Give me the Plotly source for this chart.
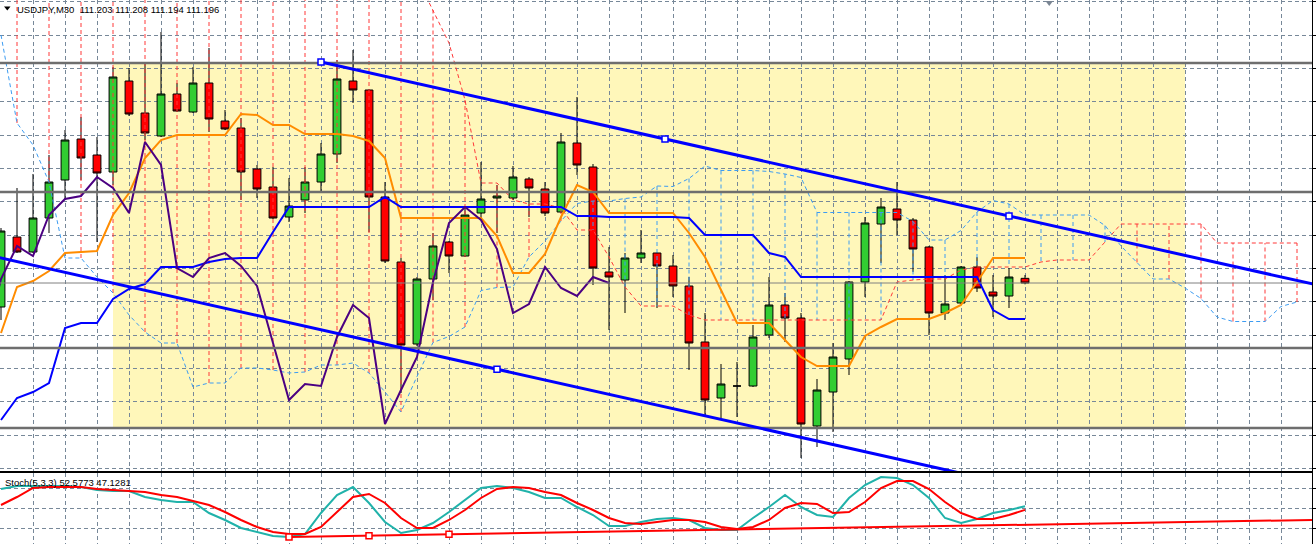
import plotly.graph_objects as go

# ---------------- data ----------------
bars = list(range(65))

open_ = [111.1600, 111.2650, 111.2425, 111.2935, 111.3505, 111.4120, 111.3880, 111.3625, 111.4990, 111.4510,
         111.4165, 111.4795, 111.4525, 111.4960, 111.4390, 111.4285, 111.3670, 111.3400, 111.2950, 111.3205,
         111.3475, 111.3895, 111.4990, 111.4855, 111.3250, 111.2275, 111.1045, 111.2020, 111.2575, 111.2365,
         111.3010, 111.3235, 111.3235, 111.3520, 111.3370, 111.3025, 111.4060, 111.3700, 111.2125, 111.2005,
         111.2335, 111.2410, 111.2215, 111.1915, 111.1075, 111.0235, 111.0415, 111.0415, 111.1180, 111.1630,
         111.1435, 110.9815, 111.0325, 111.0820, 111.1975, 111.2845, 111.3070, 111.2905, 111.2500, 111.1510,
         111.1660, 111.2200, 111.1825, 111.1765, 111.203]
high = [111.2785, 111.3385, 111.3595, 111.3880, 111.4255, 111.4450, 111.4150, 111.5200, 111.5185, 111.5275,
        111.5725, 111.4960, 111.5200, 111.5485, 111.4555, 111.4435, 111.3730, 111.3700, 111.3535, 111.3700,
        111.4060, 111.5305, 111.5455, 111.4870, 111.3475, 111.2335, 111.2050, 111.2710, 111.2590, 111.3100,
        111.3775, 111.3430, 111.3715, 111.3550, 111.3475, 111.4210, 111.4750, 111.3745, 111.2500, 111.2410,
        111.2755, 111.2425, 111.2380, 111.2050, 111.1510, 111.0745, 111.0775, 111.1330, 111.2050, 111.1810,
        111.1510, 111.0520, 111.1060, 111.1990, 111.2950, 111.3235, 111.3475, 111.2935, 111.2515, 111.2080,
        111.2215, 111.2350, 111.2080, 111.2185, 111.208]
low = [111.1405, 111.2410, 111.2410, 111.2710, 111.3205, 111.3505, 111.2575, 111.3430, 111.4465, 111.4105,
       111.4150, 111.4525, 111.4510, 111.4225, 111.4255, 111.3205, 111.3235, 111.2920, 111.2875, 111.3010,
       111.3310, 111.3760, 111.4660, 111.2725, 111.2260, 111.0310, 111.1015, 111.1705, 111.2110, 111.2350,
       111.2905, 111.2710, 111.3205, 111.2950, 111.2965, 111.3010, 111.3580, 111.1930, 111.1255, 111.1510,
       111.2260, 111.1585, 111.1750, 111.0655, 110.9980, 110.9935, 110.9950, 111.0400, 111.1135, 111.1075,
       110.9335, 110.9500, 110.9725, 111.0580, 111.1750, 111.2260, 111.2680, 111.2125, 111.1180, 111.1405,
       111.1645, 111.1825, 111.1450, 111.1585, 111.194]
close = [111.2740, 111.2425, 111.2935, 111.3475, 111.4105, 111.3835, 111.3610, 111.5050, 111.4495, 111.4210,
         111.4795, 111.4540, 111.4960, 111.4420, 111.4270, 111.3625, 111.3370, 111.2935, 111.3115, 111.3475,
         111.3895, 111.5020, 111.4855, 111.3250, 111.2290, 111.1030, 111.2020, 111.2515, 111.2365, 111.2980,
         111.3220, 111.3265, 111.3550, 111.3385, 111.3010, 111.4075, 111.3730, 111.2185, 111.2050, 111.2335,
         111.2410, 111.2215, 111.1915, 111.1060, 111.0205, 111.0445, 111.0415, 111.1150, 111.1630, 111.1435,
         110.9845, 111.0355, 111.0850, 111.1975, 111.2860, 111.3100, 111.2905, 111.2470, 111.1510, 111.1645,
         111.2200, 111.1885, 111.1765, 111.2050, 111.196]

tenkan = ([111.1210, 111.1900, 111.1990, 111.2140, 111.2410, 111.2425, 111.2440, 111.2980, 111.3310, 111.3835,
           111.4105, 111.4180, 111.4180, 111.4180, 111.4180, 111.4495, 111.4480, 111.4330, 111.4330, 111.4195,
           111.4195, 111.4195, 111.4165, 111.4090, 111.3835]
          + [111.2935] * 6
          + [111.2665, 111.2110, 111.2110, 111.2395, 111.2950, 111.3430, 111.3325]
          + [111.3010] * 5
          + [111.2710, 111.2350, 111.1855, 111.1360, 111.1360, 111.1360, 111.1105, 111.0850, 111.0715, 111.0715,
             111.0715, 111.1165, 111.1300, 111.1420, 111.1420, 111.1420, 111.1510, 111.1630, 111.1975, 111.2335,
             111.2335, 111.2335])
kijun = ([110.9905, 111.0235, 111.0325, 111.0460, 111.1285, 111.1360, 111.1360, 111.1720, 111.1870, 111.1945,
          111.2200, 111.2200, 111.2200, 111.2275, 111.2320, 111.2335, 111.2335, 111.2725]
         + [111.3100] * 6 + [111.3250] + [111.3100] * 11
         + [111.2965, 111.2965] + [111.2950] * 5 + [111.2935]
         + [111.2680] * 4 + [111.2410, 111.2350] + [111.2050] * 12
         + [111.1555, 111.1420, 111.1420])
# Senkou span A for the bars whose source lies before the first candle
span_a_early = [111.5680, 111.4360, 111.4030, 111.3475, 111.2335, 111.2335, 111.2050, 111.1810, 111.1480, 111.1225,
                111.1060, 111.1060, 111.0400, 111.0460, 111.0460, 111.0685, 111.0685, 111.0655, 111.0610, 111.0625,
                111.0730, 111.0730, 111.0760, 111.0610, 111.0325, 111.0025]
span_b = ([111.7105] * 26
          + [111.6535, 111.6055, 111.5560, 111.4705, 111.3460, 111.3460, 111.3205, 111.3145, 111.3145, 111.3085,
             111.2755, 111.2755, 111.2350, 111.1900, 111.1615, 111.1615, 111.1615, 111.1480]
          + [111.1405] * 12
          + [111.1975, 111.2005, 111.2020, 111.2020, 111.2155] + [111.2200] * 4
          + [111.2275, 111.2305, 111.2305, 111.2305, 111.2575] + [111.2845] * 6 + [111.2560] * 6)
SHIFT = 26

stoch_k = [78.5, 83, 83, 83, 83, 81.5, 77, 75.5, 75.5, 66.5,
           62, 59, 59, 42.5, 32, 20, 14, 8, 6.5, 11,
           42.5, 69.5, 81.5, 57.5, 29, 12.5, 17, 27.5, 44, 62,
           80, 83, 80, 74, 65, 65, 51.5, 39.5, 23, 23,
           29, 33.5, 35, 32, 20, 17, 17, 35, 51.5, 69.5,
           51.5, 39.5, 36.5, 65, 84.5, 96.5, 95, 84.5, 65, 35,
           27.5, 33.5, 42.5, 47, 52.5773]
stoch_d = [54.5, 66.5, 80, 81.5, 81.5, 81.5, 78.5, 77, 75.5, 74,
           69.5, 66.5, 60.5, 54.5, 44, 32, 21.5, 14, 11, 11,
           21.5, 44, 66.5, 71, 57.5, 35, 20, 20, 32, 47,
           65, 78.5, 81.5, 80, 74, 69.5, 57.5, 47, 35, 27.5,
           26, 29, 32, 32, 29, 21.5, 18.5, 21.5, 32, 50,
           57.5, 56, 42.5, 44, 59, 80, 90.5, 90.5, 78.5, 59,
           42.5, 33.5, 33.5, 39.5, 47.1281]
stoch_levels = [20, 50, 80]

h_levels = [111.5260, 111.3325, 111.0985, 110.9785]
bid = 111.196
upper_tl_bars, upper_tl_prices = [20, 63], [111.5275, 111.2965]
lower_tl_bars, lower_tl_prices = [-1, 63], [111.2389, 110.8945]
stoch_tl_bars, stoch_tl_vals = [18, 28], [6.5, 10.5]
rect_bars, rect_prices = [7, 74], [110.9785, 111.5260]

header = "USDJPY,M30  111.203 111.208 111.194 111.196"
stoch_label = "Stoch(5,3,3) 52.5773 47.1281"

# ---------------- derived series ----------------
span_a = span_a_early + [(t + k) / 2 for t, k in zip(tenkan, kijun)][:len(span_b) - len(span_a_early)]
cloud_bars = list(range(len(span_b)))
chikou_bars = [b - SHIFT for b in range(SHIFT - 1, len(close))]
chikou = close[SHIFT - 1:]

XMAX = 83
GRID_STEP = 2   # vertical grid every 2 bars; the grid hides the cloud hatch on those bars


def ray(b, v, end):
    slope = (v[1] - v[0]) / (b[1] - b[0])
    return [b[0], end], [v[0], v[0] + slope * (end - b[0])]


# ---------------- figure ----------------
W, H = 1316, 544
fig = go.Figure()

fig.add_trace(go.Candlestick(
    x=bars, open=open_, high=high, low=low, close=close,
    increasing=dict(fillcolor='#32CD32', line=dict(color='black', width=1)),
    decreasing=dict(fillcolor='#FF0000', line=dict(color='black', width=1)),
    whiskerwidth=0, hoverinfo='skip', xaxis='x', yaxis='y'))

hx_up, hy_up, hx_dn, hy_dn = [], [], [], []
for j, (a, b) in enumerate(zip(span_a, span_b)):
    if j % GRID_STEP == 0:
        continue
    if a > b:
        hx_up += [j, j, None]; hy_up += [a, b, None]
    else:
        hx_dn += [j, j, None]; hy_dn += [a, b, None]
BLUE_DOT = '#3C9CF2'
RED_DOT = '#FF3838'
fig.add_trace(go.Scatter(x=hx_up, y=hy_up, mode='lines', line=dict(color=BLUE_DOT, width=1, dash='4px,3px')))
fig.add_trace(go.Scatter(x=hx_dn, y=hy_dn, mode='lines', line=dict(color=RED_DOT, width=1, dash='4px,3px')))
fig.add_trace(go.Scatter(x=cloud_bars, y=span_a, mode='lines', line=dict(color=BLUE_DOT, width=1, dash='4px,3px')))
fig.add_trace(go.Scatter(x=cloud_bars, y=span_b, mode='lines', line=dict(color=RED_DOT, width=1, dash='4px,3px')))

fig.add_trace(go.Scatter(x=bars, y=tenkan, mode='lines', line=dict(color='#FF8C00', width=2)))
fig.add_trace(go.Scatter(x=bars, y=kijun, mode='lines', line=dict(color='#0000FF', width=2)))
fig.add_trace(go.Scatter(x=chikou_bars, y=chikou, mode='lines', line=dict(color='#4B0082', width=2)))

lx, ly = [], []
for lv in h_levels:
    lx += [-2, XMAX + 2, None]; ly += [lv, lv, None]
fig.add_trace(go.Scatter(x=lx, y=ly, mode='lines', line=dict(color='#6E6E6E', width=2.5)))
fig.add_trace(go.Scatter(x=[-2, XMAX + 2], y=[bid, bid], mode='lines', line=dict(color='#808080', width=1)))

ux, uy = ray(upper_tl_bars, upper_tl_prices, XMAX)
fig.add_trace(go.Scatter(x=ux, y=uy, mode='lines', line=dict(color='#0000FF', width=3)))
fig.add_trace(go.Scatter(x=lower_tl_bars, y=lower_tl_prices, mode='lines', line=dict(color='#0000FF', width=3)))
hb = [upper_tl_bars[0], sum(upper_tl_bars) / 2, upper_tl_bars[1], sum(lower_tl_bars) / 2]
hp = [upper_tl_prices[0], sum(upper_tl_prices) / 2, upper_tl_prices[1], sum(lower_tl_prices) / 2]
fig.add_trace(go.Scatter(x=hb, y=hp, mode='markers',
                         marker=dict(symbol='square', size=6, color='white', line=dict(color='#0000FF', width=1.5))))

# stochastic
fig.add_trace(go.Scatter(x=bars, y=stoch_k, mode='lines', line=dict(color='#20B2AA', width=2), xaxis='x2', yaxis='y2'))
fig.add_trace(go.Scatter(x=bars, y=stoch_d, mode='lines', line=dict(color='#FF0000', width=2), xaxis='x2', yaxis='y2'))
sx, sy = ray(stoch_tl_bars, stoch_tl_vals, XMAX)
fig.add_trace(go.Scatter(x=sx, y=sy, mode='lines', line=dict(color='#FF0000', width=2), xaxis='x2', yaxis='y2'))
fig.add_trace(go.Scatter(x=[stoch_tl_bars[0], sum(stoch_tl_bars) / 2, stoch_tl_bars[1]],
                         y=[stoch_tl_vals[0], sum(stoch_tl_vals) / 2, stoch_tl_vals[1]], mode='markers',
                         marker=dict(symbol='square', size=6, color='white', line=dict(color='#FF0000', width=1.5)),
                         xaxis='x2', yaxis='y2'))


def px(x, y):
    return x / W, 1 - y / H


grid = dict(showgrid=True, gridcolor='#778899', gridwidth=1, griddash='4px,3px', zeroline=False,
            showticklabels=False, showline=True, mirror=True, linecolor='black', linewidth=1)
xdom = [0, 1312 / W]
xrange_ = [-1 / 16, 1311 / 16]

tri1 = [px(4, 6.5), px(10.5, 6.5), px(7.25, 10.5)]
tri2 = [px(1045.5, 1), px(1053, 1), px(1049.25, 6)]


def tri_path(p):
    return 'M {} {} L {} {} L {} {} Z'.format(p[0][0], p[0][1], p[1][0], p[1][1], p[2][0], p[2][1])


fig.update_layout(
    width=W, height=H, margin=dict(l=0, r=0, t=0, b=0),
    paper_bgcolor='white', plot_bgcolor='white', showlegend=False, hovermode=False,
    xaxis=dict(domain=xdom, range=xrange_, tick0=0, dtick=GRID_STEP, ticks='', anchor='y',
               rangeslider=dict(visible=False), **grid),
    yaxis=dict(domain=[1 - 471 / H, 1], range=[111.6205 - 0.0015 * 471, 111.6205], tick0=111.568, dtick=0.05,
               anchor='x', side='right', ticks='outside', ticklen=3, tickcolor='black', **grid),
    xaxis2=dict(domain=xdom, range=xrange_, tick0=0, dtick=GRID_STEP, ticks='', anchor='y2', matches='x', **grid),
    yaxis2=dict(domain=[0, 71 / H], range=[-4, 102.5], tickmode='array', tickvals=stoch_levels, anchor='x2',
                side='right', ticks='outside', ticklen=3, tickcolor='black', **grid),
    shapes=[
        dict(type='rect', xref='x', yref='y', x0=rect_bars[0], x1=rect_bars[1], y0=rect_prices[0], y1=rect_prices[1],
             fillcolor='#FFF7BA', line=dict(width=0), layer='below'),
        dict(type='path', xref='paper', yref='paper', path=tri_path(tri1), fillcolor='black', line=dict(width=0)),
        dict(type='path', xref='paper', yref='paper', path=tri_path(tri2), fillcolor='#7A8593', line=dict(width=0)),
    ],
    annotations=[
        dict(text=header, xref='paper', yref='paper', x=15 / W, y=1 - 9.5 / H, xanchor='left', yanchor='middle',
             showarrow=False, font=dict(family='Liberation Sans, Arial', size=9.5, color='black')),
        dict(text=stoch_label, xref='paper', yref='paper', x=3 / W, y=1 - 482.5 / H, xanchor='left',
             yanchor='middle', showarrow=False, font=dict(family='Liberation Sans, Arial', size=9.5, color='black')),
    ],
)

fig.write_html("out.html", config={'displayModeBar': False, 'staticPlot': True},
               post_script="document.body.style.margin='0';document.body.style.overflow='hidden';")
